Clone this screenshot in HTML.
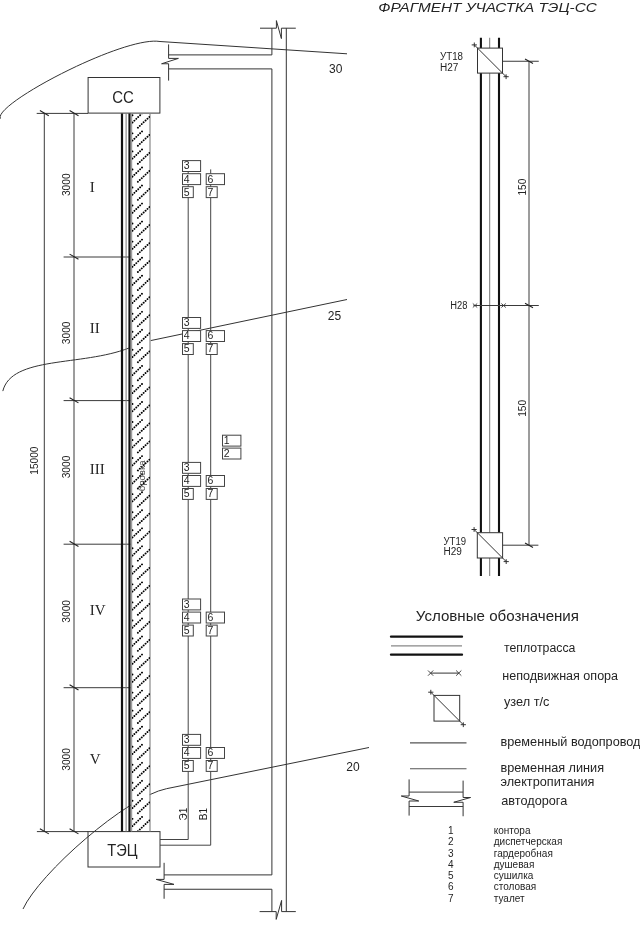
<!DOCTYPE html>
<html><head><meta charset="utf-8"><style>
html,body{margin:0;padding:0;background:#fff;}
body{width:640px;height:929px;overflow:hidden;position:relative;font-family:"Liberation Sans",sans-serif;}
svg{position:absolute;left:0;top:0;filter:blur(0.3px);}
</style></head><body>
<svg width="640" height="929" viewBox="0 0 640 929">
<path d="M0.5,118.8 C-8.2,104.7 124.1,35.5 160.0,41.5 L347,53.8" fill="none" stroke="#333" stroke-width="1" />
<path d="M2.8,391.1 C11.6,355.7 81.6,366.4 128.8,348.1" fill="none" stroke="#333" stroke-width="1" />
<path d="M150.6,340.6 L347,299.5" fill="none" stroke="#333" stroke-width="1" />
<path d="M23,909 C39.3,873.5 126.2,796.9 166.5,788.7 L369,747.5" fill="none" stroke="#333" stroke-width="1" />
<text x="335.8" y="72.6" font-family="Liberation Sans" font-size="12" text-anchor="middle" fill="#242424" >30</text>
<text x="334.5" y="319.8" font-family="Liberation Sans" font-size="12" text-anchor="middle" fill="#242424" >25</text>
<text x="353" y="771.2" font-family="Liberation Sans" font-size="12" text-anchor="middle" fill="#242424" >20</text>
<line x1="44.3" y1="113.4" x2="44.3" y2="831.6" stroke="#3a3a3a" stroke-width="1" />
<line x1="74" y1="113.4" x2="74" y2="831.6" stroke="#3a3a3a" stroke-width="1" />
<line x1="36.7" y1="113.4" x2="88" y2="113.4" stroke="#3a3a3a" stroke-width="1" />
<line x1="36.9" y1="831.6" x2="88" y2="831.6" stroke="#3a3a3a" stroke-width="1" />
<line x1="63.6" y1="257.0" x2="130.5" y2="257.0" stroke="#3a3a3a" stroke-width="1" />
<line x1="63.6" y1="400.6" x2="130.5" y2="400.6" stroke="#3a3a3a" stroke-width="1" />
<line x1="63.6" y1="544.2" x2="130.5" y2="544.2" stroke="#3a3a3a" stroke-width="1" />
<line x1="63.6" y1="687.7" x2="130.5" y2="687.7" stroke="#3a3a3a" stroke-width="1" />
<line x1="69.6" y1="110.5" x2="78.5" y2="115.7" stroke="#222" stroke-width="1.1" />
<line x1="69.6" y1="254.1" x2="78.5" y2="259.3" stroke="#222" stroke-width="1.1" />
<line x1="69.6" y1="397.70000000000005" x2="78.5" y2="402.90000000000003" stroke="#222" stroke-width="1.1" />
<line x1="69.6" y1="541.3000000000001" x2="78.5" y2="546.5" stroke="#222" stroke-width="1.1" />
<line x1="69.6" y1="684.8000000000001" x2="78.5" y2="690.0" stroke="#222" stroke-width="1.1" />
<line x1="69.6" y1="828.7" x2="78.5" y2="833.9" stroke="#222" stroke-width="1.1" />
<line x1="39.9" y1="110.5" x2="48.8" y2="115.7" stroke="#222" stroke-width="1.1" />
<line x1="39.9" y1="828.7" x2="48.8" y2="833.9" stroke="#222" stroke-width="1.1" />
<text x="70.0" y="184.75" font-family="Liberation Sans" font-size="10.2" text-anchor="middle" fill="#242424" transform="rotate(-90 70.0 184.75)" >3000</text>
<text x="70.0" y="332.8" font-family="Liberation Sans" font-size="10.2" text-anchor="middle" fill="#242424" transform="rotate(-90 70.0 332.8)" >3000</text>
<text x="70.0" y="466.95" font-family="Liberation Sans" font-size="10.2" text-anchor="middle" fill="#242424" transform="rotate(-90 70.0 466.95)" >3000</text>
<text x="70.0" y="611.3" font-family="Liberation Sans" font-size="10.2" text-anchor="middle" fill="#242424" transform="rotate(-90 70.0 611.3)" >3000</text>
<text x="70.0" y="759.4" font-family="Liberation Sans" font-size="10.2" text-anchor="middle" fill="#242424" transform="rotate(-90 70.0 759.4)" >3000</text>
<text x="37.9" y="460.6" font-family="Liberation Sans" font-size="10.9" text-anchor="middle" fill="#242424" textLength="28.2" lengthAdjust="spacingAndGlyphs" transform="rotate(-90 37.9 460.6)" >15000</text>
<text x="89.8" y="191.7" font-family="Liberation Serif" font-size="15" text-anchor="start" fill="#242424" >I</text>
<text x="89.8" y="333.2" font-family="Liberation Serif" font-size="15" text-anchor="start" fill="#242424" >II</text>
<text x="89.8" y="473.6" font-family="Liberation Serif" font-size="15" text-anchor="start" fill="#242424" >III</text>
<text x="89.8" y="614.7" font-family="Liberation Serif" font-size="15" text-anchor="start" fill="#242424" >IV</text>
<text x="89.8" y="764.2" font-family="Liberation Serif" font-size="15" text-anchor="start" fill="#242424" >V</text>
<rect x="88.1" y="77.5" width="71.8" height="35.6" fill="none" stroke="#333" stroke-width="1"/>
<text x="123.0" y="102.8" font-family="Liberation Sans" font-size="16.1" text-anchor="middle" fill="#242424" textLength="21.6" lengthAdjust="spacingAndGlyphs" >СС</text>
<rect x="88" y="831.6" width="72" height="35.4" fill="none" stroke="#333" stroke-width="1"/>
<text x="122.5" y="856.4" font-family="Liberation Sans" font-size="15.9" text-anchor="middle" fill="#242424" textLength="30.3" lengthAdjust="spacingAndGlyphs" >ТЭЦ</text>
<rect x="130.7" y="114" width="18.8" height="717" fill="#fff"/>
<line x1="122" y1="113.4" x2="122" y2="831.6" stroke="#111" stroke-width="2.2" />
<line x1="126.1" y1="113.4" x2="126.1" y2="831.6" stroke="#777" stroke-width="1" />
<line x1="129.5" y1="113.4" x2="129.5" y2="831.6" stroke="#111" stroke-width="2.2" />
<line x1="131.7" y1="113.4" x2="131.7" y2="831.6" stroke="#888" stroke-width="1" />
<line x1="150" y1="113.4" x2="150" y2="831.6" stroke="#888" stroke-width="1.2" />
<clipPath id="hc"><rect x="132" y="114" width="18" height="717"/></clipPath>
<path d="M132.5,86.42 L142.2,77.12 M137.9,91.62 L149.6,80.62 M132.5,79.22 L132.5,79.23 M132.5,104.46 L142.2,95.16 M137.9,109.66 L149.6,98.66 M132.5,97.26 L132.5,97.27 M132.5,122.50 L142.2,113.20 M137.9,127.70 L149.6,116.70 M132.5,115.30 L132.5,115.31 M132.5,140.54 L142.2,131.24 M137.9,145.74 L149.6,134.74 M132.5,133.34 L132.5,133.35 M132.5,158.58 L142.2,149.28 M137.9,163.78 L149.6,152.78 M132.5,151.38 L132.5,151.39 M132.5,176.62 L142.2,167.32 M137.9,181.82 L149.6,170.82 M132.5,169.42 L132.5,169.43 M132.5,194.66 L142.2,185.36 M137.9,199.86 L149.6,188.86 M132.5,187.46 L132.5,187.47 M132.5,212.70 L142.2,203.40 M137.9,217.90 L149.6,206.90 M132.5,205.50 L132.5,205.51 M132.5,230.74 L142.2,221.44 M137.9,235.94 L149.6,224.94 M132.5,223.54 L132.5,223.55 M132.5,248.78 L142.2,239.48 M137.9,253.98 L149.6,242.98 M132.5,241.58 L132.5,241.59 M132.5,266.82 L142.2,257.52 M137.9,272.02 L149.6,261.02 M132.5,259.62 L132.5,259.63 M132.5,284.86 L142.2,275.56 M137.9,290.06 L149.6,279.06 M132.5,277.66 L132.5,277.67 M132.5,302.90 L142.2,293.60 M137.9,308.10 L149.6,297.10 M132.5,295.70 L132.5,295.71 M132.5,320.94 L142.2,311.64 M137.9,326.14 L149.6,315.14 M132.5,313.74 L132.5,313.75 M132.5,338.98 L142.2,329.68 M137.9,344.18 L149.6,333.18 M132.5,331.78 L132.5,331.79 M132.5,357.02 L142.2,347.72 M137.9,362.22 L149.6,351.22 M132.5,349.82 L132.5,349.83 M132.5,375.06 L142.2,365.76 M137.9,380.26 L149.6,369.26 M132.5,367.86 L132.5,367.87 M132.5,393.10 L142.2,383.80 M137.9,398.30 L149.6,387.30 M132.5,385.90 L132.5,385.91 M132.5,411.14 L142.2,401.84 M137.9,416.34 L149.6,405.34 M132.5,403.94 L132.5,403.95 M132.5,429.18 L142.2,419.88 M137.9,434.38 L149.6,423.38 M132.5,421.98 L132.5,421.99 M132.5,447.22 L142.2,437.92 M137.9,452.42 L149.6,441.42 M132.5,440.02 L132.5,440.03 M132.5,465.26 L142.2,455.96 M137.9,470.46 L149.6,459.46 M132.5,458.06 L132.5,458.07 M132.5,483.30 L142.2,474.00 M137.9,488.50 L149.6,477.50 M132.5,476.10 L132.5,476.11 M132.5,501.34 L142.2,492.04 M137.9,506.54 L149.6,495.54 M132.5,494.14 L132.5,494.15 M132.5,519.38 L142.2,510.08 M137.9,524.58 L149.6,513.58 M132.5,512.18 L132.5,512.19 M132.5,537.42 L142.2,528.12 M137.9,542.62 L149.6,531.62 M132.5,530.22 L132.5,530.23 M132.5,555.46 L142.2,546.16 M137.9,560.66 L149.6,549.66 M132.5,548.26 L132.5,548.27 M132.5,573.50 L142.2,564.20 M137.9,578.70 L149.6,567.70 M132.5,566.30 L132.5,566.31 M132.5,591.54 L142.2,582.24 M137.9,596.74 L149.6,585.74 M132.5,584.34 L132.5,584.35 M132.5,609.58 L142.2,600.28 M137.9,614.78 L149.6,603.78 M132.5,602.38 L132.5,602.39 M132.5,627.62 L142.2,618.32 M137.9,632.82 L149.6,621.82 M132.5,620.42 L132.5,620.43 M132.5,645.66 L142.2,636.36 M137.9,650.86 L149.6,639.86 M132.5,638.46 L132.5,638.47 M132.5,663.70 L142.2,654.40 M137.9,668.90 L149.6,657.90 M132.5,656.50 L132.5,656.51 M132.5,681.74 L142.2,672.44 M137.9,686.94 L149.6,675.94 M132.5,674.54 L132.5,674.55 M132.5,699.78 L142.2,690.48 M137.9,704.98 L149.6,693.98 M132.5,692.58 L132.5,692.59 M132.5,717.82 L142.2,708.52 M137.9,723.02 L149.6,712.02 M132.5,710.62 L132.5,710.63 M132.5,735.86 L142.2,726.56 M137.9,741.06 L149.6,730.06 M132.5,728.66 L132.5,728.67 M132.5,753.90 L142.2,744.60 M137.9,759.10 L149.6,748.10 M132.5,746.70 L132.5,746.71 M132.5,771.94 L142.2,762.64 M137.9,777.14 L149.6,766.14 M132.5,764.74 L132.5,764.75 M132.5,789.98 L142.2,780.68 M137.9,795.18 L149.6,784.18 M132.5,782.78 L132.5,782.79 M132.5,808.02 L142.2,798.72 M137.9,813.22 L149.6,802.22 M132.5,800.82 L132.5,800.83 M132.5,826.06 L142.2,816.76 M137.9,831.26 L149.6,820.26 M132.5,818.86 L132.5,818.87 M132.5,844.10 L142.2,834.80 M137.9,849.30 L149.6,838.30 M132.5,836.90 L132.5,836.91" stroke="#000" stroke-width="1.9" stroke-dasharray="0.01 2.62" stroke-linecap="round" fill="none" clip-path="url(#hc)"/>
<text x="145.2" y="475.8" font-family="Liberation Sans" font-size="8.5" text-anchor="middle" fill="#444" textLength="31" lengthAdjust="spacingAndGlyphs" transform="rotate(-90 145.2 475.8)" >бровка</text>
<path d="M260,28.2 H276.4 L276.4,20.6 L281.4,38.6 L281.4,28.2 H295.8" fill="none" stroke="#333" stroke-width="1" />
<path d="M271.9,28.2 V54.9 H168.6" fill="none" stroke="#333" stroke-width="1" />
<path d="M168.6,44.4 V58.4 H178.4 L161.6,63.75 H168.6 V80.6" fill="none" stroke="#333" stroke-width="1" />
<path d="M168.6,68.9 H271.9 V874.9 H164.1" fill="none" stroke="#333" stroke-width="1" />
<path d="M164.1,862.8 V879.4 H156.25 L174,884.4 H164.1 V898.75" fill="none" stroke="#333" stroke-width="1" />
<path d="M164.1,889.25 H271.9 V911.6" fill="none" stroke="#333" stroke-width="1" />
<path d="M259.6,911.6 H276.2 L276.2,919.4 L281.6,900.4 L281.6,911.6 H295.8" fill="none" stroke="#333" stroke-width="1" />
<line x1="286.3" y1="28.2" x2="286.3" y2="911.6" stroke="#333" stroke-width="1" />
<path d="M188.2,160.6 V839.5 H160" fill="none" stroke="#444" stroke-width="1" />
<path d="M210.7,169.4 V845.2 H160" fill="none" stroke="#444" stroke-width="1" />
<text x="187.4" y="814" font-family="Liberation Sans" font-size="10" text-anchor="middle" fill="#242424" transform="rotate(-90 187.4 814)" >Э1</text>
<text x="207" y="814" font-family="Liberation Sans" font-size="10" text-anchor="middle" fill="#242424" transform="rotate(-90 207 814)" >В1</text>
<rect x="182.5" y="160.6" width="18.1" height="10.9" fill="#fff" stroke="#444" stroke-width="1"/>
<text x="183.8" y="169.4" font-family="Liberation Sans" font-size="10.5" text-anchor="start" fill="#242424" >3</text>
<rect x="182.5" y="173.7" width="18.1" height="10.9" fill="#fff" stroke="#444" stroke-width="1"/>
<text x="183.8" y="182.5" font-family="Liberation Sans" font-size="10.5" text-anchor="start" fill="#242424" >4</text>
<rect x="182.5" y="186.7" width="10.8" height="10.9" fill="#fff" stroke="#444" stroke-width="1"/>
<text x="183.8" y="195.5" font-family="Liberation Sans" font-size="10.5" text-anchor="start" fill="#242424" >5</text>
<rect x="206.2" y="173.7" width="18.3" height="10.9" fill="#fff" stroke="#444" stroke-width="1"/>
<text x="207.5" y="182.5" font-family="Liberation Sans" font-size="10.5" text-anchor="start" fill="#242424" >6</text>
<rect x="206.2" y="186.7" width="11" height="10.9" fill="#fff" stroke="#444" stroke-width="1"/>
<text x="207.5" y="195.5" font-family="Liberation Sans" font-size="10.5" text-anchor="start" fill="#242424" >7</text>
<rect x="182.5" y="317.5" width="18.1" height="10.9" fill="#fff" stroke="#444" stroke-width="1"/>
<text x="183.8" y="326.3" font-family="Liberation Sans" font-size="10.5" text-anchor="start" fill="#242424" >3</text>
<rect x="182.5" y="330.6" width="18.1" height="10.9" fill="#fff" stroke="#444" stroke-width="1"/>
<text x="183.8" y="339.40000000000003" font-family="Liberation Sans" font-size="10.5" text-anchor="start" fill="#242424" >4</text>
<rect x="182.5" y="343.6" width="10.8" height="10.9" fill="#fff" stroke="#444" stroke-width="1"/>
<text x="183.8" y="352.40000000000003" font-family="Liberation Sans" font-size="10.5" text-anchor="start" fill="#242424" >5</text>
<rect x="206.2" y="330.6" width="18.3" height="10.9" fill="#fff" stroke="#444" stroke-width="1"/>
<text x="207.5" y="339.40000000000003" font-family="Liberation Sans" font-size="10.5" text-anchor="start" fill="#242424" >6</text>
<rect x="206.2" y="343.6" width="11" height="10.9" fill="#fff" stroke="#444" stroke-width="1"/>
<text x="207.5" y="352.40000000000003" font-family="Liberation Sans" font-size="10.5" text-anchor="start" fill="#242424" >7</text>
<rect x="182.5" y="462.4" width="18.1" height="10.9" fill="#fff" stroke="#444" stroke-width="1"/>
<text x="183.8" y="471.2" font-family="Liberation Sans" font-size="10.5" text-anchor="start" fill="#242424" >3</text>
<rect x="182.5" y="475.5" width="18.1" height="10.9" fill="#fff" stroke="#444" stroke-width="1"/>
<text x="183.8" y="484.3" font-family="Liberation Sans" font-size="10.5" text-anchor="start" fill="#242424" >4</text>
<rect x="182.5" y="488.5" width="10.8" height="10.9" fill="#fff" stroke="#444" stroke-width="1"/>
<text x="183.8" y="497.3" font-family="Liberation Sans" font-size="10.5" text-anchor="start" fill="#242424" >5</text>
<rect x="206.2" y="475.5" width="18.3" height="10.9" fill="#fff" stroke="#444" stroke-width="1"/>
<text x="207.5" y="484.3" font-family="Liberation Sans" font-size="10.5" text-anchor="start" fill="#242424" >6</text>
<rect x="206.2" y="488.5" width="11" height="10.9" fill="#fff" stroke="#444" stroke-width="1"/>
<text x="207.5" y="497.3" font-family="Liberation Sans" font-size="10.5" text-anchor="start" fill="#242424" >7</text>
<rect x="182.5" y="599.0" width="18.1" height="10.9" fill="#fff" stroke="#444" stroke-width="1"/>
<text x="183.8" y="607.8" font-family="Liberation Sans" font-size="10.5" text-anchor="start" fill="#242424" >3</text>
<rect x="182.5" y="612.1" width="18.1" height="10.9" fill="#fff" stroke="#444" stroke-width="1"/>
<text x="183.8" y="620.9" font-family="Liberation Sans" font-size="10.5" text-anchor="start" fill="#242424" >4</text>
<rect x="182.5" y="625.1" width="10.8" height="10.9" fill="#fff" stroke="#444" stroke-width="1"/>
<text x="183.8" y="633.9" font-family="Liberation Sans" font-size="10.5" text-anchor="start" fill="#242424" >5</text>
<rect x="206.2" y="612.1" width="18.3" height="10.9" fill="#fff" stroke="#444" stroke-width="1"/>
<text x="207.5" y="620.9" font-family="Liberation Sans" font-size="10.5" text-anchor="start" fill="#242424" >6</text>
<rect x="206.2" y="625.1" width="11" height="10.9" fill="#fff" stroke="#444" stroke-width="1"/>
<text x="207.5" y="633.9" font-family="Liberation Sans" font-size="10.5" text-anchor="start" fill="#242424" >7</text>
<rect x="182.5" y="734.4" width="18.1" height="10.9" fill="#fff" stroke="#444" stroke-width="1"/>
<text x="183.8" y="743.1999999999999" font-family="Liberation Sans" font-size="10.5" text-anchor="start" fill="#242424" >3</text>
<rect x="182.5" y="747.5" width="18.1" height="10.9" fill="#fff" stroke="#444" stroke-width="1"/>
<text x="183.8" y="756.3" font-family="Liberation Sans" font-size="10.5" text-anchor="start" fill="#242424" >4</text>
<rect x="182.5" y="760.5" width="10.8" height="10.9" fill="#fff" stroke="#444" stroke-width="1"/>
<text x="183.8" y="769.3" font-family="Liberation Sans" font-size="10.5" text-anchor="start" fill="#242424" >5</text>
<rect x="206.2" y="747.5" width="18.3" height="10.9" fill="#fff" stroke="#444" stroke-width="1"/>
<text x="207.5" y="756.3" font-family="Liberation Sans" font-size="10.5" text-anchor="start" fill="#242424" >6</text>
<rect x="206.2" y="760.5" width="11" height="10.9" fill="#fff" stroke="#444" stroke-width="1"/>
<text x="207.5" y="769.3" font-family="Liberation Sans" font-size="10.5" text-anchor="start" fill="#242424" >7</text>
<rect x="222.5" y="435.2" width="18.4" height="10.9" fill="#fff" stroke="#444" stroke-width="1"/>
<text x="223.8" y="444.0" font-family="Liberation Sans" font-size="10.5" text-anchor="start" fill="#242424" >1</text>
<rect x="222.5" y="448.1" width="18.4" height="10.9" fill="#fff" stroke="#444" stroke-width="1"/>
<text x="223.8" y="456.90000000000003" font-family="Liberation Sans" font-size="10.5" text-anchor="start" fill="#242424" >2</text>
<text x="378.3" y="11.6" font-family="Liberation Sans" font-size="13.5" text-anchor="start" fill="#242424" textLength="218.5" lengthAdjust="spacingAndGlyphs" font-style="italic">ФРАГМЕНТ УЧАСТКА ТЭЦ-СС</text>
<line x1="480.9" y1="37.75" x2="480.9" y2="48.1" stroke="#111" stroke-width="2.1" />
<line x1="489.7" y1="37.75" x2="489.7" y2="48.1" stroke="#777" stroke-width="1" />
<line x1="499.0" y1="37.75" x2="499.0" y2="48.1" stroke="#111" stroke-width="2.1" />
<line x1="480.9" y1="73.1" x2="480.9" y2="532.7" stroke="#111" stroke-width="2.1" />
<line x1="489.7" y1="73.1" x2="489.7" y2="532.7" stroke="#777" stroke-width="1" />
<line x1="499.0" y1="73.1" x2="499.0" y2="532.7" stroke="#111" stroke-width="2.1" />
<line x1="480.9" y1="557.9" x2="480.9" y2="576" stroke="#111" stroke-width="2.1" />
<line x1="489.7" y1="557.9" x2="489.7" y2="576" stroke="#777" stroke-width="1" />
<line x1="499.0" y1="557.9" x2="499.0" y2="576" stroke="#111" stroke-width="2.1" />
<rect x="477.5" y="48.1" width="25" height="25" fill="#fff" stroke="#333" stroke-width="1"/>
<line x1="474.3" y1="44.9" x2="506.1" y2="76.69999999999999" stroke="#333" stroke-width="1" />
<line x1="471.7" y1="44.9" x2="476.90000000000003" y2="44.9" stroke="#333" stroke-width="1" />
<line x1="474.3" y1="42.5" x2="474.3" y2="47.3" stroke="#333" stroke-width="1" />
<line x1="503.5" y1="76.69999999999999" x2="508.70000000000005" y2="76.69999999999999" stroke="#333" stroke-width="1" />
<line x1="506.1" y1="74.29999999999998" x2="506.1" y2="79.1" stroke="#333" stroke-width="1" />
<rect x="477.3" y="532.7" width="25.3" height="25.3" fill="#fff" stroke="#333" stroke-width="1"/>
<line x1="474.1" y1="529.5" x2="506.20000000000005" y2="561.6" stroke="#333" stroke-width="1" />
<line x1="471.5" y1="529.5" x2="476.70000000000005" y2="529.5" stroke="#333" stroke-width="1" />
<line x1="474.1" y1="527.1" x2="474.1" y2="531.9" stroke="#333" stroke-width="1" />
<line x1="503.6" y1="561.6" x2="508.80000000000007" y2="561.6" stroke="#333" stroke-width="1" />
<line x1="506.20000000000005" y1="559.2" x2="506.20000000000005" y2="564.0" stroke="#333" stroke-width="1" />
<line x1="502.5" y1="61.25" x2="538.75" y2="61.25" stroke="#3a3a3a" stroke-width="1" />
<line x1="502.7" y1="545.2" x2="538.4" y2="545.2" stroke="#3a3a3a" stroke-width="1" />
<line x1="529" y1="61.25" x2="529" y2="545.2" stroke="#3a3a3a" stroke-width="1" />
<line x1="473.5" y1="305.5" x2="538.8" y2="305.5" stroke="#3a3a3a" stroke-width="1" />
<line x1="525" y1="59.05" x2="533" y2="63.55" stroke="#222" stroke-width="1.1" />
<line x1="525" y1="303.3" x2="533" y2="307.8" stroke="#222" stroke-width="1.1" />
<line x1="525" y1="543.0" x2="533" y2="547.5" stroke="#222" stroke-width="1.1" />
<line x1="472.8" y1="303.5" x2="477.2" y2="307.5" stroke="#333" stroke-width="0.9" />
<line x1="472.8" y1="307.5" x2="477.2" y2="303.5" stroke="#333" stroke-width="0.9" />
<line x1="501.40000000000003" y1="303.5" x2="505.8" y2="307.5" stroke="#333" stroke-width="0.9" />
<line x1="501.40000000000003" y1="307.5" x2="505.8" y2="303.5" stroke="#333" stroke-width="0.9" />
<text x="526.5" y="187.15" font-family="Liberation Sans" font-size="10" text-anchor="middle" fill="#242424" textLength="16.8" lengthAdjust="spacingAndGlyphs" transform="rotate(-90 526.5 187.15)" >150</text>
<text x="526.0" y="408.3" font-family="Liberation Sans" font-size="10" text-anchor="middle" fill="#242424" textLength="17" lengthAdjust="spacingAndGlyphs" transform="rotate(-90 526.0 408.3)" >150</text>
<text x="440" y="59.8" font-family="Liberation Sans" font-size="10" text-anchor="start" fill="#242424" textLength="23" lengthAdjust="spacingAndGlyphs" >УТ18</text>
<text x="440" y="71" font-family="Liberation Sans" font-size="10" text-anchor="start" fill="#242424" >Н27</text>
<text x="450.3" y="309.2" font-family="Liberation Sans" font-size="10" text-anchor="start" fill="#242424" textLength="17.2" lengthAdjust="spacingAndGlyphs" >Н28</text>
<text x="443.5" y="544.5" font-family="Liberation Sans" font-size="10" text-anchor="start" fill="#242424" textLength="22.5" lengthAdjust="spacingAndGlyphs" >УТ19</text>
<text x="443.5" y="555.2" font-family="Liberation Sans" font-size="10" text-anchor="start" fill="#242424" >Н29</text>
<text x="415.8" y="620.6" font-family="Liberation Sans" font-size="15" text-anchor="start" fill="#242424" textLength="163.2" lengthAdjust="spacingAndGlyphs" >Условные обозначения</text>
<line x1="391" y1="636.7" x2="462" y2="636.7" stroke="#111" stroke-width="2.3" stroke-linecap="round"/>
<line x1="391" y1="645.8" x2="462" y2="645.8" stroke="#888" stroke-width="1.2" />
<line x1="391" y1="654.7" x2="462" y2="654.7" stroke="#111" stroke-width="2.3" stroke-linecap="round"/>
<text x="504" y="651.5" font-family="Liberation Sans" font-size="12.5" text-anchor="start" fill="#242424" textLength="71.4" lengthAdjust="spacingAndGlyphs" >теплотрасса</text>
<line x1="430.6" y1="673.1" x2="458.75" y2="673.1" stroke="#333" stroke-width="1" />
<line x1="428.0" y1="670.5" x2="433.20000000000005" y2="675.7" stroke="#333" stroke-width="0.9" />
<line x1="428.0" y1="675.7" x2="433.20000000000005" y2="670.5" stroke="#333" stroke-width="0.9" />
<line x1="456.15" y1="670.5" x2="461.35" y2="675.7" stroke="#333" stroke-width="0.9" />
<line x1="456.15" y1="675.7" x2="461.35" y2="670.5" stroke="#333" stroke-width="0.9" />
<text x="502.3" y="680.0" font-family="Liberation Sans" font-size="12.5" text-anchor="start" fill="#242424" textLength="115.8" lengthAdjust="spacingAndGlyphs" >неподвижная опора</text>
<rect x="434" y="695.4" width="25.7" height="25.7" fill="#fff" stroke="#333" stroke-width="1"/>
<line x1="430.8" y1="692.1999999999999" x2="463.3" y2="724.7" stroke="#333" stroke-width="1" />
<line x1="428.2" y1="692.1999999999999" x2="433.40000000000003" y2="692.1999999999999" stroke="#333" stroke-width="1" />
<line x1="430.8" y1="689.8" x2="430.8" y2="694.5999999999999" stroke="#333" stroke-width="1" />
<line x1="460.7" y1="724.7" x2="465.90000000000003" y2="724.7" stroke="#333" stroke-width="1" />
<line x1="463.3" y1="722.3000000000001" x2="463.3" y2="727.1" stroke="#333" stroke-width="1" />
<text x="504" y="705.9" font-family="Liberation Sans" font-size="12.5" text-anchor="start" fill="#242424" textLength="45.4" lengthAdjust="spacingAndGlyphs" >узел т/с</text>
<line x1="410" y1="742.9" x2="466.5" y2="742.9" stroke="#555" stroke-width="1.2" />
<text x="500.5" y="746" font-family="Liberation Sans" font-size="12.7" text-anchor="start" fill="#242424" >временный водопровод</text>
<line x1="410" y1="768.75" x2="466.5" y2="768.75" stroke="#555" stroke-width="1.2" />
<text x="500.5" y="772" font-family="Liberation Sans" font-size="12.7" text-anchor="start" fill="#242424" >временная линия</text>
<text x="500.5" y="785.8" font-family="Liberation Sans" font-size="12.7" text-anchor="start" fill="#242424" >электропитания</text>
<path d="M409.1,779.4 V796 H401.25 L418.75,801 H409.1 V815.6" fill="none" stroke="#333" stroke-width="1" />
<path d="M463.1,780.6 V797.5 H470.6 L453.75,802.25 H463.1 V816.25" fill="none" stroke="#333" stroke-width="1" />
<line x1="409.1" y1="792.1" x2="463.1" y2="792.1" stroke="#3a3a3a" stroke-width="1" />
<line x1="409.1" y1="806.5" x2="463.1" y2="806.5" stroke="#3a3a3a" stroke-width="1" />
<text x="501.3" y="804.9" font-family="Liberation Sans" font-size="12.7" text-anchor="start" fill="#242424" >автодорога</text>
<text x="450.7" y="834.0" font-family="Liberation Sans" font-size="10" text-anchor="middle" fill="#242424" >1</text>
<text x="493.75" y="834.0" font-family="Liberation Sans" font-size="10" text-anchor="start" fill="#242424" >контора</text>
<text x="450.7" y="845.28" font-family="Liberation Sans" font-size="10" text-anchor="middle" fill="#242424" >2</text>
<text x="493.75" y="845.28" font-family="Liberation Sans" font-size="10" text-anchor="start" fill="#242424" >диспетчерская</text>
<text x="450.7" y="856.56" font-family="Liberation Sans" font-size="10" text-anchor="middle" fill="#242424" >3</text>
<text x="493.75" y="856.56" font-family="Liberation Sans" font-size="10" text-anchor="start" fill="#242424" >гардеробная</text>
<text x="450.7" y="867.84" font-family="Liberation Sans" font-size="10" text-anchor="middle" fill="#242424" >4</text>
<text x="493.75" y="867.84" font-family="Liberation Sans" font-size="10" text-anchor="start" fill="#242424" >душевая</text>
<text x="450.7" y="879.12" font-family="Liberation Sans" font-size="10" text-anchor="middle" fill="#242424" >5</text>
<text x="493.75" y="879.12" font-family="Liberation Sans" font-size="10" text-anchor="start" fill="#242424" >сушилка</text>
<text x="450.7" y="890.4" font-family="Liberation Sans" font-size="10" text-anchor="middle" fill="#242424" >6</text>
<text x="493.75" y="890.4" font-family="Liberation Sans" font-size="10" text-anchor="start" fill="#242424" >столовая</text>
<text x="450.7" y="901.68" font-family="Liberation Sans" font-size="10" text-anchor="middle" fill="#242424" >7</text>
<text x="493.75" y="901.68" font-family="Liberation Sans" font-size="10" text-anchor="start" fill="#242424" >туалет</text>
</svg>
</body></html>
